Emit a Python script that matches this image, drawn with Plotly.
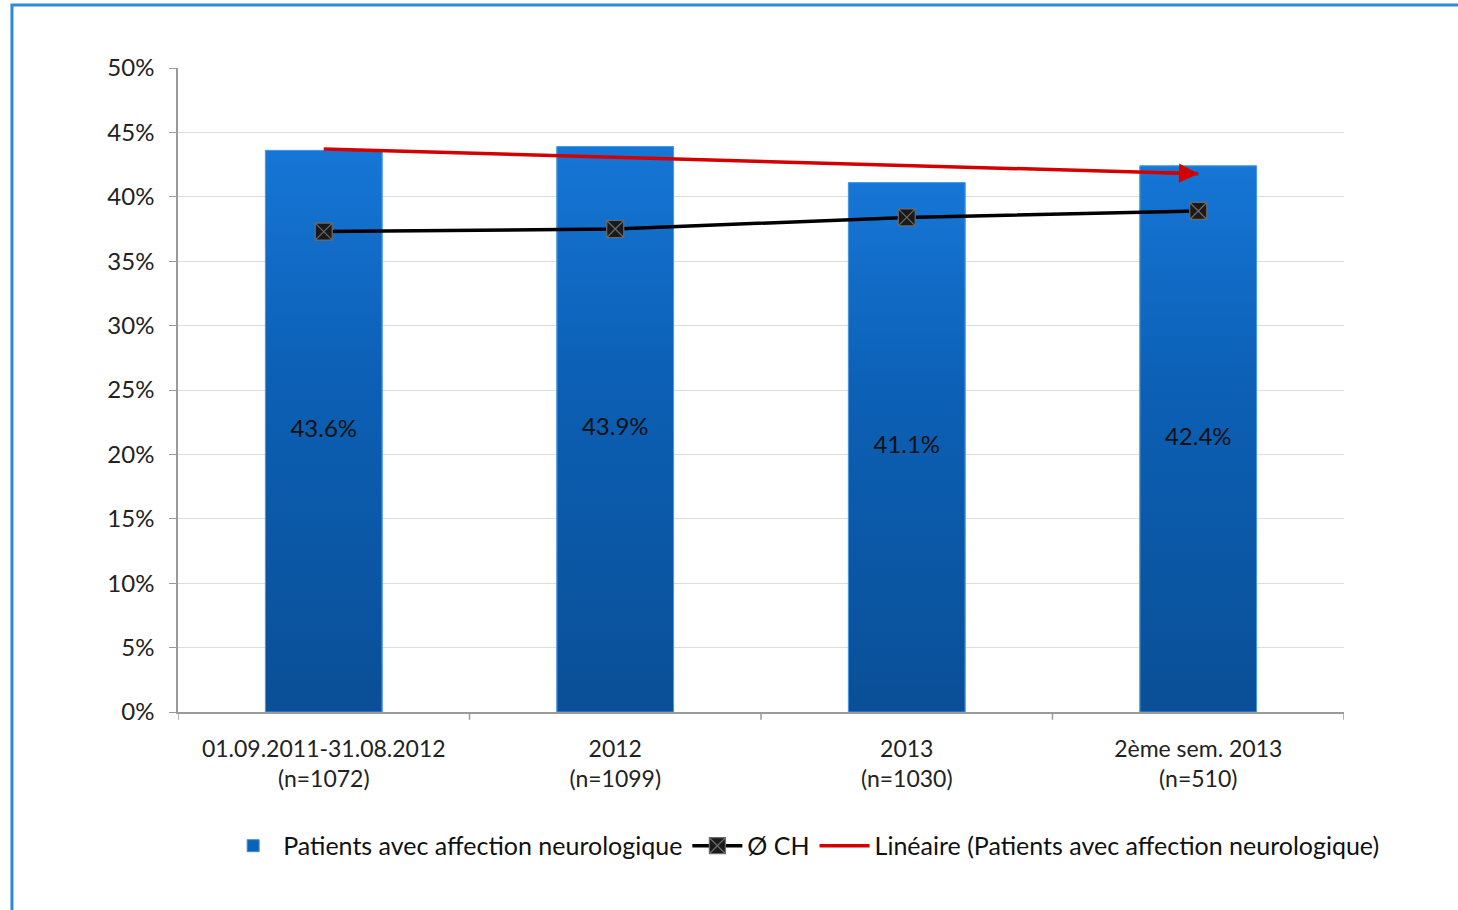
import numpy as np
import plotly.graph_objects as go

# Categories and series values
categories = ["01.09.2011-31.08.2012<br>(n=1072)", "2012<br>(n=1099)",
              "2013<br>(n=1030)", "2ème sem. 2013<br>(n=510)"]
patients_neuro = [43.6, 43.9, 41.1, 42.4]      # % patients with neurological condition
moyenne_ch = [37.3, 37.5, 38.4, 38.9]          # Swiss average (Ø CH)
y_ticks = [0, 5, 10, 15, 20, 25, 30, 35, 40, 45, 50]

x_pos = list(range(len(categories)))
BAR_W = 0.4

# Linear trend of the bar series
slope, intercept = np.polyfit(x_pos, patients_neuro, 1)
trend = [slope * x + intercept for x in x_pos]

FONT = "Lato, 'Open Sans', sans-serif"

fig = go.Figure()

# Bar series (legend entry + base fill)
fig.add_trace(go.Bar(
    x=x_pos, y=patients_neuro,
    name="Patients avec affection neurologique",
    marker=dict(color="#0e62b6", line=dict(color="#3d8fe0", width=1)),
    width=BAR_W,
))

# Vertical gradient overlay for each bar
for x, v in zip(x_pos, patients_neuro):
    fig.add_trace(go.Scatter(
        x=[x - BAR_W / 2, x + BAR_W / 2, x + BAR_W / 2, x - BAR_W / 2, x - BAR_W / 2],
        y=[0, 0, v, v, 0],
        mode="lines", fill="toself",
        line=dict(color="#4a9ae6", width=1),
        fillgradient=dict(type="vertical", start=0, stop=v,
                          colorscale=[[0, "#0a4f97"], [0.6, "#0c60b5"], [1, "#1676d6"]]),
        showlegend=False, hoverinfo="skip",
    ))

# Value labels in the middle of each bar
fig.add_trace(go.Scatter(
    x=x_pos, y=[v / 2 for v in patients_neuro], mode="text",
    text=[f"{v:.1f}%" for v in patients_neuro],
    textfont=dict(color="#111111", size=24, family=FONT),
    showlegend=False, hoverinfo="skip",
))

fig.add_trace(go.Scatter(
    x=x_pos, y=moyenne_ch, name="Ø CH", mode="lines+markers",
    line=dict(color="#000000", width=3.5),
    marker=dict(symbol="square-x", size=17, color="#1a1a1a",
                line=dict(color="#6b6b6b", width=1.2)),
))

fig.add_trace(go.Scatter(
    x=x_pos, y=trend, name="Linéaire (Patients avec affection neurologique)",
    mode="lines", line=dict(color="#d40000", width=3.5),
))

# Arrow head at the end of the trend line
fig.add_annotation(
    x=x_pos[-1], y=trend[-1], ax=x_pos[-1] - 0.12,
    ay=trend[-1] + slope * -0.12,
    xref="x", yref="y", axref="x", ayref="y",
    showarrow=True, arrowhead=2, arrowsize=1.1, arrowwidth=3.5,
    arrowcolor="#d40000", text="",
)

# Outer frame
fig.add_shape(type="rect", xref="paper", yref="paper",
              x0=-0.1424, x1=1.12, y0=-0.32, y1=1.0978,
              line=dict(color="#2f8ad6", width=3), layer="below")

fig.update_layout(
    width=1458, height=910,
    margin=dict(l=178, r=114, t=68, b=198),
    paper_bgcolor="white", plot_bgcolor="white",
    font=dict(family=FONT, color="#222222"),
    showlegend=True,
    legend=dict(orientation="h", x=0.537, xanchor="center", y=-0.208,
                yanchor="middle", font=dict(size=25, color="#111111"),
                itemwidth=50, traceorder="normal"),
    xaxis=dict(
        range=[-0.5, 3.5], tickmode="array", tickvals=x_pos, ticktext=categories,
        tickfont=dict(size=23, color="#222222"), ticklabelstandoff=16,
        showline=True, linecolor="#9a9a9a", linewidth=1.5,
        ticks="", showgrid=False, zeroline=False,
    ),
    yaxis=dict(
        range=[0, 50], tickvals=y_ticks, ticktext=[f"{v}%" for v in y_ticks],
        tickfont=dict(size=24, color="#222222"), ticklabelstandoff=10,
        showline=True, linecolor="#9a9a9a", linewidth=1.5,
        ticks="outside", ticklen=7, tickcolor="#9a9a9a",
        showgrid=True, gridcolor="#dcdcdc", gridwidth=1, zeroline=False,
    ),
)

# Category boundary tick marks on the x axis
for b in [-0.5, 0.5, 1.5, 2.5, 3.5]:
    fig.add_shape(type="line", xref="x", yref="paper", x0=b, x1=b,
                  y0=0, y1=-0.012, line=dict(color="#9a9a9a", width=1.5))

fig.write_html("out.html")
